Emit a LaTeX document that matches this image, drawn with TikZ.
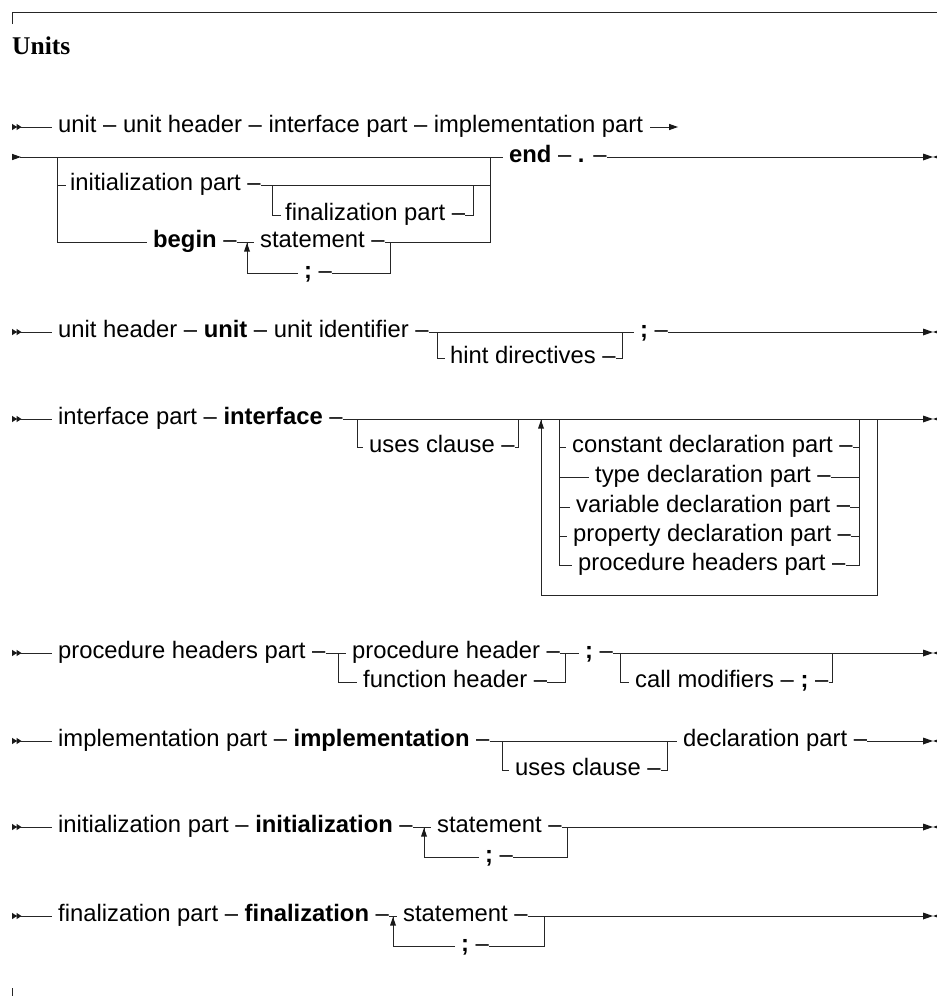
\documentclass[tikz,border=0pt]{standalone}
\usepackage{fontspec}
\setmainfont{Liberation Sans}
\newfontfamily\titlefont{Liberation Serif}
\begin{document}
\begin{tikzpicture}[x=1pt,y=-1pt,
  ln/.style={draw=black!85,line width=1pt},
  txt/.style={anchor=west,inner sep=0pt,text height=16.5pt,text depth=5.5pt,
    font=\fontsize{23.8}{28}\selectfont,text=black},
  startmark/.pic={\fill[black!90] (0,-3.2)--(5,0)--(0,3.2)--cycle (4.5,-3.2)--(9.5,0)--(4.5,3.2)--cycle;},
  contmark/.pic={\fill[black!90] (0,-3.2)--(9,0)--(0,3.2)--cycle;},
  endmark/.pic={\fill[black!90] (-10,-3.5)--(0,0)--(-10,3.5)--cycle (10,-3.5)--(0,0)--(10,3.5)--cycle;},
  uparrow/.pic={\fill[black!90] (0,0)--(-3,8.5)--(3,8.5)--cycle;}]
\useasboundingbox (0,0) rectangle (937,996);

% frame and title
\draw[ln] (12,24) -- (12,12) -- (940,12);
\draw[ln] (12,988) -- (12,998);
\node[anchor=base west,inner sep=0pt,font=\titlefont\bfseries\fontsize{25.5}{30}\selectfont] (title) at (12,54) {Units};

% ---------- row 1
\pic at (12,127) {startmark};
\node[txt] (a1) at (58,127) {unit – unit header – interface part – implementation part};
\coordinate (a2) at (669,127);
\draw[ln] (20,127) -- ([xshift=-6]a1.west);
\draw[ln] ([xshift=7]a1.east) -- (a2);
\pic at (a2) {contmark};

% ---------- row 2
\pic at (12,157) {contmark};
\node[txt] (b9) at (509,157) {\textbf{end} – \textbf{.} –};
\node[txt] (b1) at (70,185) {initialization part –};
\node[txt] (b2) at (285,215) {finalization part –};
\node[txt] (b3) at (153,242) {\textbf{begin} –};
\node[txt] (b4) at (260,242) {statement –};
\node[txt] (b5) at (304,273) {\textbf{;} –};
\coordinate (b10) at (923,157);
\draw[ln] (20,157) -- ([xshift=-6]b9.west);
\draw[ln] (b9.east) -- (b10);
\pic at ([xshift=10]b10) {endmark};
\draw[ln] (57,157) -- (57,242) -- ([xshift=-6]b3.west);
\draw[ln] (57,185) -- ([xshift=-4]b1.west);
\draw[ln] (b1.east) -- (490,185);
\draw[ln] (272,185) -- (272,215) -- ([xshift=-4]b2.west);
\draw[ln] (b2.east) -- (473,215) -- (473,185);
\draw[ln] (b3.east) -- ([xshift=-6]b4.west);
\draw[ln] (b4.east) -- (490,242) -- (490,157);
\draw[ln] (390,242) -- (390,273) -- (b5.east);
\draw[ln] ([xshift=-6]b5.west) -- (247,273) -- (247,243);
\pic at (247,243) {uparrow};

% ---------- row 3
\pic at (12,332) {startmark};
\node[txt] (c1) at (58,332) {unit header – \textbf{unit} – unit identifier –};
\node[txt] (c2) at (450,358) {hint directives –};
\node[txt] (c3) at (640,332) {\textbf{;} –};
\coordinate (c4) at (923,332);
\draw[ln] (20,332) -- ([xshift=-6]c1.west);
\draw[ln] (c1.east) -- ([xshift=-6]c3.west);
\draw[ln] (437,332) -- (437,358) -- ([xshift=-5]c2.west);
\draw[ln] (c2.east) -- (622,358) -- (622,332);
\draw[ln] (c3.east) -- (c4);
\pic at ([xshift=10]c4) {endmark};

% ---------- row 4
\pic at (12,419) {startmark};
\node[txt] (d1) at (58,419) {interface part – \textbf{interface} –};
\node[txt] (d2) at (369,447) {uses clause –};
\node[txt] (d3) at (572,447) {constant declaration part –};
\node[txt] (d4) at (595,477) {type declaration part –};
\node[txt] (d5) at (576,507) {variable declaration part –};
\node[txt] (d6) at (573,536) {property declaration part –};
\node[txt] (d7) at (578,565) {procedure headers part –};
\coordinate (d8) at (923,419);
\draw[ln] (20,419) -- ([xshift=-6]d1.west);
\draw[ln] (d1.east) -- (d8);
\pic at ([xshift=10]d8) {endmark};
\draw[ln] (357,419) -- (357,447) -- ([xshift=-6]d2.west);
\draw[ln] (d2.east) -- (518,447) -- (518,419);
\draw[ln] (559,419) -- (559,565) -- ([xshift=-6]d7.west);
\foreach \n/\yy in {d3/447,d4/477,d5/507,d6/536}{
  \draw[ln] (559,\yy) -- ([xshift=-6]\n.west);
  \draw[ln] (\n.east) -- (859,\yy);
}
\draw[ln] (d7.east) -- (859,565) -- (859,419);
\draw[ln] (877,419) -- (877,595) -- (541,595) -- (541,420);
\pic at (541,420) {uparrow};

% ---------- row 5
\pic at (12,653) {startmark};
\node[txt] (e1) at (58,653) {procedure headers part –};
\node[txt] (e2) at (352,653) {procedure header –};
\node[txt] (e3) at (363,682) {function header –};
\node[txt] (e4) at (585,653) {\textbf{;} –};
\node[txt] (e5) at (635,682) {call modifiers – \textbf{;} –};
\coordinate (e6) at (923,653);
\draw[ln] (20,653) -- ([xshift=-6]e1.west);
\draw[ln] (e1.east) -- ([xshift=-6]e2.west);
\draw[ln] (338,653) -- (338,682) -- ([xshift=-6]e3.west);
\draw[ln] (e2.east) -- ([xshift=-6]e4.west);
\draw[ln] (e3.east) -- (565,682) -- (565,653);
\draw[ln] (e4.east) -- (e6);
\pic at ([xshift=10]e6) {endmark};
\draw[ln] (620,653) -- (620,682) -- ([xshift=-6]e5.west);
\draw[ln] (e5.east) -- (832,682) -- (832,653);

% ---------- row 6
\pic at (12,741) {startmark};
\node[txt] (f1) at (58,741) {implementation part – \textbf{implementation} –};
\node[txt] (f2) at (515,770) {uses clause –};
\node[txt] (f3) at (683,741) {declaration part –};
\coordinate (f4) at (923,741);
\draw[ln] (20,741) -- ([xshift=-6]f1.west);
\draw[ln] (f1.east) -- ([xshift=-6]f3.west);
\draw[ln] (502,741) -- (502,770) -- ([xshift=-6]f2.west);
\draw[ln] (f2.east) -- (667,770) -- (667,741);
\draw[ln] (f3.east) -- (f4);
\pic at ([xshift=10]f4) {endmark};

% ---------- row 7
\pic at (12,827) {startmark};
\node[txt] (g1) at (58,827) {initialization part – \textbf{initialization} –};
\node[txt] (g2) at (437,827) {statement –};
\node[txt] (g3) at (485,857) {\textbf{;} –};
\coordinate (g4) at (923,827);
\draw[ln] (20,827) -- ([xshift=-6]g1.west);
\draw[ln] (g1.east) -- ([xshift=-6]g2.west);
\draw[ln] (g2.east) -- (g4);
\pic at ([xshift=10]g4) {endmark};
\draw[ln] (567,827) -- (567,857) -- (g3.east);
\draw[ln] ([xshift=-6]g3.west) -- (424,857) -- (424,828);
\pic at (424,828) {uparrow};

% ---------- row 8
\pic at (12,916) {startmark};
\node[txt] (h1) at (58,916) {finalization part – \textbf{finalization} –};
\node[txt] (h2) at (403,916) {statement –};
\node[txt] (h3) at (461,946) {\textbf{;} –};
\coordinate (h4) at (923,916);
\draw[ln] (20,916) -- ([xshift=-6]h1.west);
\draw[ln] (h1.east) -- ([xshift=-6]h2.west);
\draw[ln] (h2.east) -- (h4);
\pic at ([xshift=10]h4) {endmark};
\draw[ln] (544,916) -- (544,946) -- (h3.east);
\draw[ln] ([xshift=-6]h3.west) -- (393,946) -- (393,917);
\pic at (393,917) {uparrow};
\end{tikzpicture}
\end{document}
